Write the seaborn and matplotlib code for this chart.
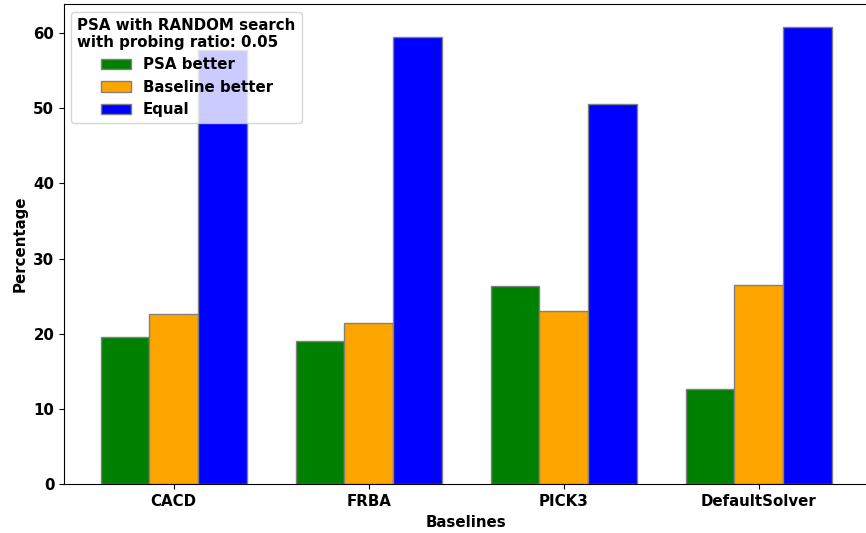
import matplotlib
matplotlib.use("Agg")
import matplotlib.pyplot as plt
from matplotlib.patches import Patch
import pandas as pd
import seaborn as sns

# Share of instances per outcome (%), by baseline solver
baselines = ["CACD", "FRBA", "PICK3", "DefaultSolver"]
outcomes = ["PSA better", "Baseline better", "Equal"]
psa_better = [19.6, 19.1, 26.4, 12.7]
baseline_better = [22.7, 21.4, 23.0, 26.5]
equal = [57.7, 59.5, 50.6, 60.8]
colors = ["green", "orange", "blue"]

FS = 10.8

plt.rcParams["font.family"] = ["DejaVu Sans"]
plt.rcParams["font.weight"] = "bold"
plt.rcParams["axes.labelweight"] = "bold"
plt.rcParams["font.size"] = FS

df = pd.DataFrame({
    "Baselines": baselines * 3,
    "Outcome": [o for o in outcomes for _ in baselines],
    "Percentage": psa_better + baseline_better + equal,
})

fig = plt.figure(figsize=(8.66, 5.33), dpi=100)
ax = fig.add_axes([0.0739, 0.0914, 0.929, 0.901])

sns.barplot(
    data=df, x="Baselines", y="Percentage", hue="Outcome",
    order=baselines, hue_order=outcomes, palette=colors,
    width=0.75, saturation=1, edgecolor="grey", linewidth=1,
    errorbar=None, ax=ax,
)

ax.set_xlim(-0.5625, 3.5625)
ax.margins(y=0.05)
ax.set_xlabel("Baselines", fontweight="bold", fontsize=FS)
ax.set_ylabel("Percentage", fontweight="bold", fontsize=FS)
ax.tick_params(labelsize=FS)
for lbl in ax.get_xticklabels() + ax.get_yticklabels():
    lbl.set_fontweight("bold")

handles = [Patch(facecolor=c, edgecolor="grey", label=o) for c, o in zip(colors, outcomes)]
leg = ax.legend(
    handles=handles, loc="upper left",
    title="PSA with RANDOM search\nwith probing ratio: 0.05",
    prop={"weight": "bold", "size": FS},
    title_fontproperties={"weight": "bold", "size": FS},
)

fig.savefig("out.png", dpi=100)
